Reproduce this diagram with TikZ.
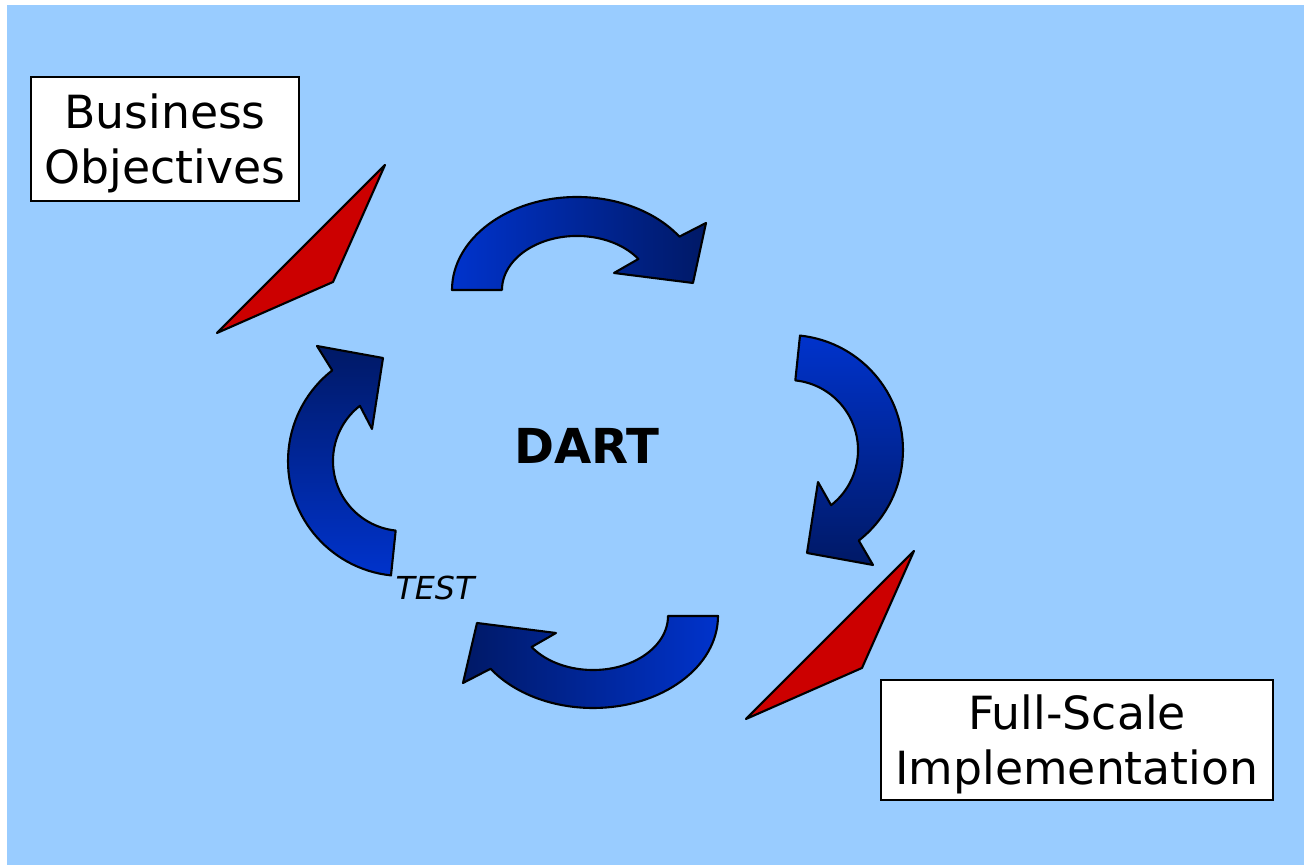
\documentclass[tikz,border=0pt]{standalone}
\usepackage{fontspec}
\setmainfont{DejaVu Sans}
\definecolor{sky}{HTML}{99CCFF}
\definecolor{arrowlight}{HTML}{0033CC}
\definecolor{arrowdark}{HTML}{001966}
\definecolor{wedgered}{HTML}{CC0000}
\begin{document}
\begin{tikzpicture}[x=0.01cm,y=-0.01cm,
  box/.style={draw=black, fill=white, line width=0.6pt, align=center, inner sep=0pt,
    text depth=-2pt, font=\fontsize{13pt}{15.65pt}\selectfont},
  cyclearrow/.style={draw=black, line width=0.6pt, line join=round},
  wedge/.style={draw=black, fill=wedgered, line width=0.6pt, line join=round}]

  % pozadie
  \useasboundingbox (0,0) rectangle (1311,865);
  \fill[sky] (7,5) rectangle (1304,865);

  % boxy
  \node[box, minimum width=2.68cm, minimum height=1.24cm] (goals) at (165,139) {Business\\Objectives};
  \node[box, minimum width=3.92cm, minimum height=1.20cm] (impl) at (1077,740) {Full-Scale\\Implementation};

  % cervene klinky
  \foreach \dx/\dy in {0/0, 529/386}
    \draw[wedge, shift={(\dx,\dy)}] (385,165) -- (333,282) -- (217,333) -- cycle;

  % cyklus - horna sipka
  \draw[cyclearrow, left color=arrowlight, right color=arrowdark]
    (452,290) arc[start angle=180, end angle=325, x radius=125, y radius=93]
    -- (706,223) -- (693,283) -- (614,273) -- (638.4,259.0)
    arc[start angle=325, end angle=180, x radius=75, y radius=54] -- cycle;

  % cyklus - prava sipka
  \draw[cyclearrow, top color=arrowlight, bottom color=arrowdark]
    (800.0,335.6) arc[start angle=-84, end angle=52, radius=115]
    -- (873,565) -- (807,553) -- (818,482) -- (831.1,505.2)
    arc[start angle=52, end angle=-84, radius=70] -- cycle;

  % cyklus - dolna sipka
  \draw[cyclearrow, left color=arrowdark, right color=arrowlight]
    (718,616) arc[start angle=0, end angle=145, x radius=125, y radius=92]
    -- (463,683) -- (477,623) -- (556,633) -- (531.6,647.0)
    arc[start angle=145, end angle=0, x radius=75, y radius=54] -- cycle;

  % cyklus - lava sipka
  \draw[cyclearrow, top color=arrowdark, bottom color=arrowlight]
    (391.0,575.4) arc[start angle=96, end angle=232, radius=115]
    -- (317,346) -- (383,358) -- (372,429) -- (359.9,405.8)
    arc[start angle=232, end angle=96, radius=70] -- cycle;

  % texty
  \node[font=\bfseries\fontsize{13.7pt}{16pt}\selectfont] (dart) at (587,446) {DART};
  \node[font=\itshape\fontsize{9pt}{11pt}\selectfont] (test) at (435,588) {TEST};

\end{tikzpicture}
\end{document}
